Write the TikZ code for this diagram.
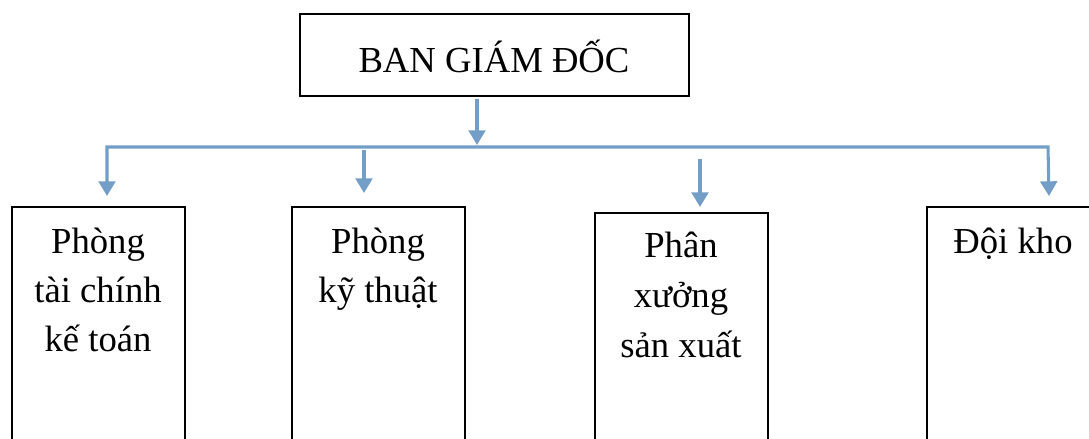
\documentclass[tikz,border=0pt]{standalone}
\usepackage{fontspec}
\setmainfont{Liberation Serif}
\usetikzlibrary{arrows.meta}
\definecolor{linkblue}{RGB}{114,158,200}
\tikzset{
  unitbox/.style={draw=black, line width=1.5pt, fill=none, inner sep=0pt},
  label/.style={font=\fontsize{27.5}{37}\selectfont, inner sep=0pt, anchor=base},
  link/.style={draw=linkblue, line width=2.3pt},
  tip/.style={-{Triangle[length=11pt, width=12.5pt]}},
  twotips/.style={{Triangle[length=11pt, width=12.5pt]}-{Triangle[length=11pt, width=12.5pt]}},
}
\begin{document}
\begin{tikzpicture}[x=0.75pt, y=-0.75pt]
  \useasboundingbox (0,0) rectangle (1089,439);
  \clip (0,0) rectangle (1089,439);

  % management box
  \draw[unitbox] (300,14) rectangle (689,96);
  \node[label] (boss) at (494,72) {BAN GIÁM ĐỐC};

  % department boxes (running off the bottom of the page)
  \draw[unitbox] (12,207) rectangle (185,470);
  \draw[unitbox] (292,207) rectangle (465,470);
  \draw[unitbox] (595,213) rectangle (768,470);
  \draw[unitbox] (927,207) rectangle (1100,470);

  % department names
  \node[label] (d1a) at (98,253) {Phòng};
  \node[label] (d1b) at (98,302) {tài chính};
  \node[label] (d1c) at (98,351) {kế toán};
  \node[label] (d2a) at (378,253) {Phòng};
  \node[label] (d2b) at (378,302) {kỹ thuật};
  \node[label] (d3a) at (681,257) {Phân};
  \node[label] (d3b) at (681,307) {xưởng};
  \node[label] (d3c) at (681,357) {sản xuất};
  \node[label] (d4a) at (1013,253) {Đội kho};

  % connector end points
  \coordinate (bossout) at (477,99);
  \coordinate (busmid) at (477,145);
  \coordinate (busL) at (107,147);
  \coordinate (busR) at (1048,147);
  \coordinate (in1) at (107,196);
  \coordinate (in4) at (1049,196);
  \coordinate (from2) at (364,150);
  \coordinate (in2) at (364,193);
  \coordinate (from3) at (700,159);
  \coordinate (in3) at (700,207);

  % connectors
  \draw[link, tip] (bossout) -- (busmid);
  \draw[link, twotips] (in1) -- (busL) -- (busR) -- (in4);
  \draw[link, tip] (from2) -- (in2);
  \draw[link, tip] (from3) -- (in3);
\end{tikzpicture}
\end{document}
